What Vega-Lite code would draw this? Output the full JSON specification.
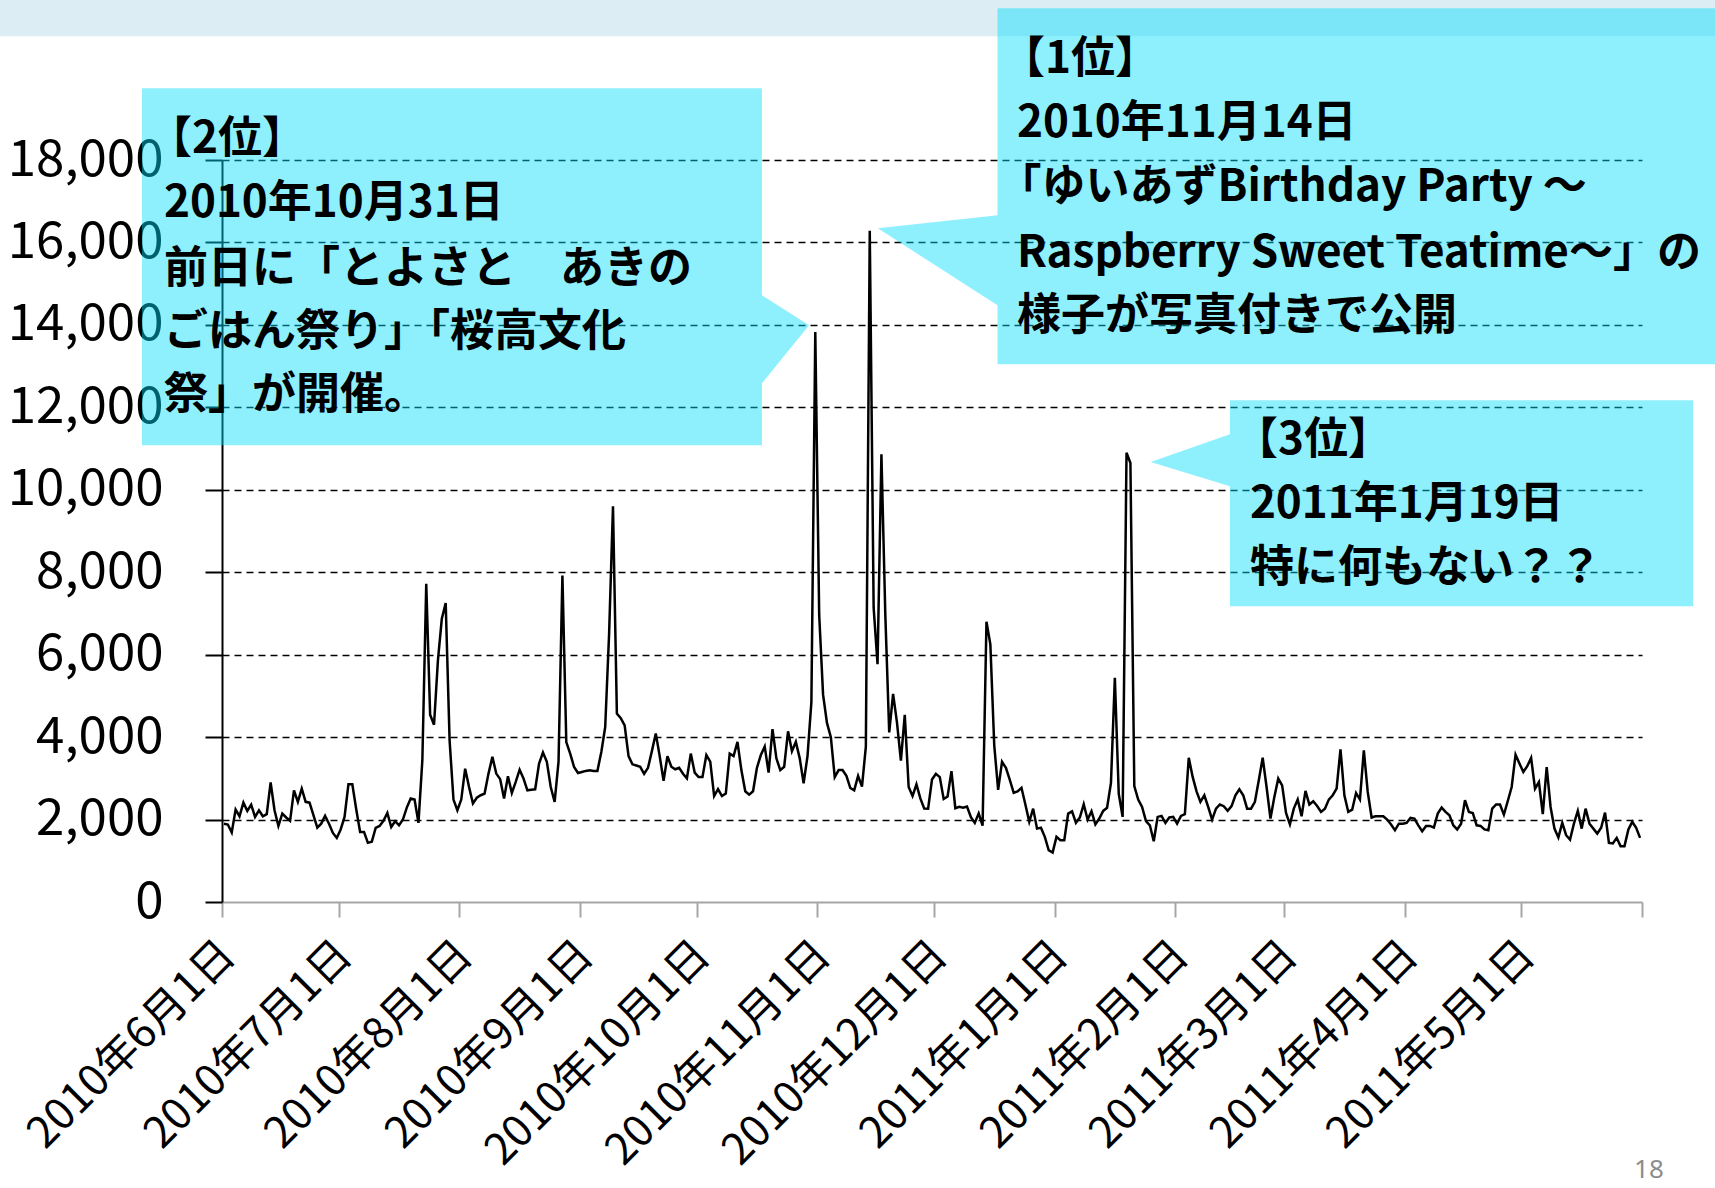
{
  "$schema": "https://vega.github.io/schema/vega-lite/v6.json",
  "width": 1420,
  "height": 742,
  "autosize": {"type": "none"},
  "padding": {"left": 222, "top": 160, "right": 73, "bottom": 286},
  "background": "white",
  "config": {"view": {"stroke": null}},
  "datasets": {
    "band": [{"t0": "2010-03-01T00:00:00Z", "t1": "2011-07-15T00:00:00Z", "y0": 21001, "y1": 23500}],
    "callouts": [
      {"id": "b2", "t": "2010-05-11T10:30:00Z", "top": 19740, "bot": 11079},
      {"id": "b2", "t": "2010-10-17T19:00:00Z", "top": 19740, "bot": 11079},
      {"id": "b2", "t": "2010-10-17T19:00:00Z", "top": 14718, "bot": 12583},
      {"id": "b2", "t": "2010-10-29T21:30:00Z", "top": 13990, "bot": 13990},
      {"id": "b1", "t": "2010-11-16T14:00:00Z", "top": 16343, "bot": 16343},
      {"id": "b1", "t": "2010-12-17T08:00:00Z", "top": 16659, "bot": 14475},
      {"id": "b1", "t": "2010-12-17T08:00:00Z", "top": 21680, "bot": 13044},
      {"id": "b1", "t": "2011-07-15T00:00:00Z", "top": 21680, "bot": 13044},
      {"id": "b3", "t": "2011-01-25T17:00:00Z", "top": 10674, "bot": 10674},
      {"id": "b3", "t": "2011-02-15T02:00:00Z", "top": 11346, "bot": 10085},
      {"id": "b3", "t": "2011-02-15T02:00:00Z", "top": 12171, "bot": 7173},
      {"id": "b3", "t": "2011-06-14T03:00:00Z", "top": 12171, "bot": 7173}
    ],
    "texts": [
      {"t": "2010-05-13T00:00:00Z", "y": 18478, "s": "【2位】"},
      {"t": "2010-05-17T02:00:00Z", "y": 16925, "s": "2010年10月31日"},
      {"t": "2010-05-17T02:00:00Z", "y": 15324, "s": "前日に「とよさと　あきの"},
      {"t": "2010-05-17T02:00:00Z", "y": 13796, "s": "ごはん祭り」「桜高文化"},
      {"t": "2010-05-17T02:00:00Z", "y": 12268, "s": "祭」が開催。"},
      {"t": "2010-12-18T06:00:00Z", "y": 20419, "s": "【1位】"},
      {"t": "2010-12-22T08:00:00Z", "y": 18876, "s": "2010年11月14日"},
      {"t": "2010-12-17T08:00:00Z", "y": 17313, "s": "「ゆいあずBirthday Party ～"},
      {"t": "2010-12-22T08:00:00Z", "y": 15718, "s": "Raspberry Sweet Teatime～」の"},
      {"t": "2010-12-22T08:00:00Z", "y": 14184, "s": "様子が写真付きで公開"},
      {"t": "2011-02-16T03:00:00Z", "y": 11176, "s": "【3位】"},
      {"t": "2011-02-20T05:00:00Z", "y": 9624, "s": "2011年1月19日"},
      {"t": "2011-02-20T05:00:00Z", "y": 8071, "s": "特に何もない？？"}
    ],
    "page": [{"t": "2011-06-02T19:00:00Z", "y": -6509, "s": "18"}],
    "series": [
      {"d":"2010-06-01","v":1900},{"d":"2010-06-02","v":1880},{"d":"2010-06-03","v":1685},{"d":"2010-06-04","v":2240},{"d":"2010-06-05","v":2080},{"d":"2010-06-06","v":2410},{"d":"2010-06-07","v":2210},{"d":"2010-06-08","v":2360},{"d":"2010-06-09","v":2065},{"d":"2010-06-10","v":2225},
      {"d":"2010-06-11","v":2080},{"d":"2010-06-12","v":2130},{"d":"2010-06-13","v":2900},{"d":"2010-06-14","v":2225},{"d":"2010-06-15","v":1845},{"d":"2010-06-16","v":2145},{"d":"2010-06-17","v":2050},{"d":"2010-06-18","v":1970},{"d":"2010-06-19","v":2710},{"d":"2010-06-20","v":2430},
      {"d":"2010-06-21","v":2750},{"d":"2010-06-22","v":2430},{"d":"2010-06-23","v":2410},{"d":"2010-06-24","v":2105},{"d":"2010-06-25","v":1805},{"d":"2010-06-26","v":1900},{"d":"2010-06-27","v":2090},{"d":"2010-06-28","v":1900},{"d":"2010-06-29","v":1675},{"d":"2010-06-30","v":1555},
      {"d":"2010-07-01","v":1760},{"d":"2010-07-02","v":2065},{"d":"2010-07-03","v":2855},{"d":"2010-07-04","v":2855},{"d":"2010-07-05","v":2250},{"d":"2010-07-06","v":1700},{"d":"2010-07-07","v":1700},{"d":"2010-07-08","v":1435},{"d":"2010-07-09","v":1460},{"d":"2010-07-10","v":1800},
      {"d":"2010-07-11","v":1845},{"d":"2010-07-12","v":1970},{"d":"2010-07-13","v":2160},{"d":"2010-07-14","v":1820},{"d":"2010-07-15","v":1960},{"d":"2010-07-16","v":1860},{"d":"2010-07-17","v":2000},{"d":"2010-07-18","v":2290},{"d":"2010-07-19","v":2510},{"d":"2010-07-20","v":2485},
      {"d":"2010-07-21","v":1920},{"d":"2010-07-22","v":3440},{"d":"2010-07-23","v":7720},{"d":"2010-07-24","v":4545},{"d":"2010-07-25","v":4300},{"d":"2010-07-26","v":5860},{"d":"2010-07-27","v":6870},{"d":"2010-07-28","v":7250},{"d":"2010-07-29","v":3920},{"d":"2010-07-30","v":2485},
      {"d":"2010-07-31","v":2225},
      {"d":"2010-08-01","v":2485},{"d":"2010-08-02","v":3235},{"d":"2010-08-03","v":2790},{"d":"2010-08-04","v":2390},{"d":"2010-08-05","v":2530},{"d":"2010-08-06","v":2590},{"d":"2010-08-07","v":2630},{"d":"2010-08-08","v":3115},{"d":"2010-08-09","v":3520},{"d":"2010-08-10","v":3115},
      {"d":"2010-08-11","v":2980},{"d":"2010-08-12","v":2510},{"d":"2010-08-13","v":3050},{"d":"2010-08-14","v":2645},{"d":"2010-08-15","v":2915},{"d":"2010-08-16","v":3210},{"d":"2010-08-17","v":2995},{"d":"2010-08-18","v":2710},{"d":"2010-08-19","v":2725},{"d":"2010-08-20","v":2735},
      {"d":"2010-08-21","v":3360},{"d":"2010-08-22","v":3625},{"d":"2010-08-23","v":3400},{"d":"2010-08-24","v":2790},{"d":"2010-08-25","v":2430},{"d":"2010-08-26","v":3400},{"d":"2010-08-27","v":7920},{"d":"2010-08-28","v":3880},{"d":"2010-08-29","v":3600},{"d":"2010-08-30","v":3275},
      {"d":"2010-08-31","v":3130},
      {"d":"2010-09-01","v":3155},{"d":"2010-09-02","v":3180},{"d":"2010-09-03","v":3195},{"d":"2010-09-04","v":3180},{"d":"2010-09-05","v":3180},{"d":"2010-09-06","v":3640},{"d":"2010-09-07","v":4245},{"d":"2010-09-08","v":6500},{"d":"2010-09-09","v":9600},{"d":"2010-09-10","v":4570},
      {"d":"2010-09-11","v":4460},{"d":"2010-09-12","v":4285},{"d":"2010-09-13","v":3540},{"d":"2010-09-14","v":3340},{"d":"2010-09-15","v":3310},{"d":"2010-09-16","v":3280},{"d":"2010-09-17","v":3110},{"d":"2010-09-18","v":3255},{"d":"2010-09-19","v":3660},{"d":"2010-09-20","v":4090},
      {"d":"2010-09-21","v":3540},{"d":"2010-09-22","v":2940},{"d":"2010-09-23","v":3540},{"d":"2010-09-24","v":3280},{"d":"2010-09-25","v":3220},{"d":"2010-09-26","v":3255},{"d":"2010-09-27","v":3110},{"d":"2010-09-28","v":3000},{"d":"2010-09-29","v":3600},{"d":"2010-09-30","v":3140},
      {"d":"2010-10-01","v":3030},{"d":"2010-10-02","v":3030},{"d":"2010-10-03","v":3565},{"d":"2010-10-04","v":3405},{"d":"2010-10-05","v":2570},{"d":"2010-10-06","v":2740},{"d":"2010-10-07","v":2570},{"d":"2010-10-08","v":2630},{"d":"2010-10-09","v":3600},{"d":"2010-10-10","v":3540},
      {"d":"2010-10-11","v":3885},{"d":"2010-10-12","v":3200},{"d":"2010-10-13","v":2685},{"d":"2010-10-14","v":2605},{"d":"2010-10-15","v":2685},{"d":"2010-10-16","v":3255},{"d":"2010-10-17","v":3565},{"d":"2010-10-18","v":3770},{"d":"2010-10-19","v":3140},{"d":"2010-10-20","v":4195},
      {"d":"2010-10-21","v":3485},{"d":"2010-10-22","v":3200},{"d":"2010-10-23","v":3280},{"d":"2010-10-24","v":4140},{"d":"2010-10-25","v":3660},{"d":"2010-10-26","v":3885},{"d":"2010-10-27","v":3485},{"d":"2010-10-28","v":2880},{"d":"2010-10-29","v":3540},{"d":"2010-10-30","v":4855},
      {"d":"2010-10-31","v":13830},
      {"d":"2010-11-01","v":6970},{"d":"2010-11-02","v":5030},{"d":"2010-11-03","v":4345},{"d":"2010-11-04","v":4000},{"d":"2010-11-05","v":3030},{"d":"2010-11-06","v":3200},{"d":"2010-11-07","v":3200},{"d":"2010-11-08","v":3060},{"d":"2010-11-09","v":2765},{"d":"2010-11-10","v":2710},
      {"d":"2010-11-11","v":3060},{"d":"2010-11-12","v":2800},{"d":"2010-11-13","v":3770},{"d":"2010-11-14","v":16285},{"d":"2010-11-15","v":7140},{"d":"2010-11-16","v":5770},{"d":"2010-11-17","v":10860},{"d":"2010-11-18","v":6970},{"d":"2010-11-19","v":4115},{"d":"2010-11-20","v":5050},
      {"d":"2010-11-21","v":4350},{"d":"2010-11-22","v":3430},{"d":"2010-11-23","v":4540},{"d":"2010-11-24","v":2790},{"d":"2010-11-25","v":2570},{"d":"2010-11-26","v":2855},{"d":"2010-11-27","v":2515},{"d":"2010-11-28","v":2270},{"d":"2010-11-29","v":2265},{"d":"2010-11-30","v":2970},
      {"d":"2010-12-01","v":3110},{"d":"2010-12-02","v":3030},{"d":"2010-12-03","v":2500},{"d":"2010-12-04","v":2560},{"d":"2010-12-05","v":3175},{"d":"2010-12-06","v":2275},{"d":"2010-12-07","v":2310},{"d":"2010-12-08","v":2285},{"d":"2010-12-09","v":2315},{"d":"2010-12-10","v":2060},
      {"d":"2010-12-11","v":1920},{"d":"2010-12-12","v":2150},{"d":"2010-12-13","v":1850},{"d":"2010-12-14","v":6800},{"d":"2010-12-15","v":6250},{"d":"2010-12-16","v":3800},{"d":"2010-12-17","v":2720},{"d":"2010-12-18","v":3400},{"d":"2010-12-19","v":3255},{"d":"2010-12-20","v":2960},
      {"d":"2010-12-21","v":2650},{"d":"2010-12-22","v":2685},{"d":"2010-12-23","v":2770},{"d":"2010-12-24","v":2365},{"d":"2010-12-25","v":1945},{"d":"2010-12-26","v":2265},{"d":"2010-12-27","v":1780},{"d":"2010-12-28","v":1800},{"d":"2010-12-29","v":1580},{"d":"2010-12-30","v":1255},
      {"d":"2010-12-31","v":1200},
      {"d":"2011-01-01","v":1580},{"d":"2011-01-02","v":1500},{"d":"2011-01-03","v":1500},{"d":"2011-01-04","v":2145},{"d":"2011-01-05","v":2200},{"d":"2011-01-06","v":1920},{"d":"2011-01-07","v":2050},{"d":"2011-01-08","v":2370},{"d":"2011-01-09","v":2000},{"d":"2011-01-10","v":2200},
      {"d":"2011-01-11","v":1885},{"d":"2011-01-12","v":2025},{"d":"2011-01-13","v":2210},{"d":"2011-01-14","v":2285},{"d":"2011-01-15","v":2890},{"d":"2011-01-16","v":5440},{"d":"2011-01-17","v":2630},{"d":"2011-01-18","v":2065},{"d":"2011-01-19","v":10900},{"d":"2011-01-20","v":10650},
      {"d":"2011-01-21","v":2810},{"d":"2011-01-22","v":2485},{"d":"2011-01-23","v":2305},{"d":"2011-01-24","v":1960},{"d":"2011-01-25","v":1860},{"d":"2011-01-26","v":1475},{"d":"2011-01-27","v":2065},{"d":"2011-01-28","v":2090},{"d":"2011-01-29","v":1920},{"d":"2011-01-30","v":2050},
      {"d":"2011-01-31","v":2065},
      {"d":"2011-02-01","v":1900},{"d":"2011-02-02","v":2090},{"d":"2011-02-03","v":2130},{"d":"2011-02-04","v":3500},{"d":"2011-02-05","v":3035},{"d":"2011-02-06","v":2685},{"d":"2011-02-07","v":2430},{"d":"2011-02-08","v":2590},{"d":"2011-02-09","v":2305},{"d":"2011-02-10","v":2000},
      {"d":"2011-02-11","v":2265},{"d":"2011-02-12","v":2365},{"d":"2011-02-13","v":2325},{"d":"2011-02-14","v":2210},{"d":"2011-02-15","v":2325},{"d":"2011-02-16","v":2590},{"d":"2011-02-17","v":2735},{"d":"2011-02-18","v":2590},{"d":"2011-02-19","v":2265},{"d":"2011-02-20","v":2265},
      {"d":"2011-02-21","v":2430},{"d":"2011-02-22","v":2955},{"d":"2011-02-23","v":3500},{"d":"2011-02-24","v":2790},{"d":"2011-02-25","v":2025},{"d":"2011-02-26","v":2550},{"d":"2011-02-27","v":2995},{"d":"2011-02-28","v":2830},
      {"d":"2011-03-01","v":2160},{"d":"2011-03-02","v":1885},{"d":"2011-03-03","v":2265},{"d":"2011-03-04","v":2485},{"d":"2011-03-05","v":2080},{"d":"2011-03-06","v":2695},{"d":"2011-03-07","v":2365},{"d":"2011-03-08","v":2445},{"d":"2011-03-09","v":2330},{"d":"2011-03-10","v":2185},
      {"d":"2011-03-11","v":2265},{"d":"2011-03-12","v":2485},{"d":"2011-03-13","v":2590},{"d":"2011-03-14","v":2750},{"d":"2011-03-15","v":3705},{"d":"2011-03-16","v":2590},{"d":"2011-03-17","v":2185},{"d":"2011-03-18","v":2240},{"d":"2011-03-19","v":2645},{"d":"2011-03-20","v":2485},
      {"d":"2011-03-21","v":3680},{"d":"2011-03-22","v":2670},{"d":"2011-03-23","v":2050},{"d":"2011-03-24","v":2080},{"d":"2011-03-25","v":2080},{"d":"2011-03-26","v":2080},{"d":"2011-03-27","v":2000},{"d":"2011-03-28","v":1880},{"d":"2011-03-29","v":1740},{"d":"2011-03-30","v":1900},
      {"d":"2011-03-31","v":1900},
      {"d":"2011-04-01","v":1920},{"d":"2011-04-02","v":2040},{"d":"2011-04-03","v":2025},{"d":"2011-04-04","v":1860},{"d":"2011-04-05","v":1715},{"d":"2011-04-06","v":1845},{"d":"2011-04-07","v":1845},{"d":"2011-04-08","v":1805},{"d":"2011-04-09","v":2145},{"d":"2011-04-10","v":2290},
      {"d":"2011-04-11","v":2185},{"d":"2011-04-12","v":2105},{"d":"2011-04-13","v":1860},{"d":"2011-04-14","v":1760},{"d":"2011-04-15","v":1900},{"d":"2011-04-16","v":2470},{"d":"2011-04-17","v":2185},{"d":"2011-04-18","v":2160},{"d":"2011-04-19","v":1860},{"d":"2011-04-20","v":1845},
      {"d":"2011-04-21","v":1760},{"d":"2011-04-22","v":1740},{"d":"2011-04-23","v":2265},{"d":"2011-04-24","v":2365},{"d":"2011-04-25","v":2365},{"d":"2011-04-26","v":2120},{"d":"2011-04-27","v":2450},{"d":"2011-04-28","v":2790},{"d":"2011-04-29","v":3575},{"d":"2011-04-30","v":3360},
      {"d":"2011-05-01","v":3155},{"d":"2011-05-02","v":3295},{"d":"2011-05-03","v":3495},{"d":"2011-05-04","v":2750},{"d":"2011-05-05","v":2910},{"d":"2011-05-06","v":2130},{"d":"2011-05-07","v":3275},{"d":"2011-05-08","v":2305},{"d":"2011-05-09","v":1780},{"d":"2011-05-10","v":1565},
      {"d":"2011-05-11","v":1920},{"d":"2011-05-12","v":1620},{"d":"2011-05-13","v":1515},{"d":"2011-05-14","v":1900},{"d":"2011-05-15","v":2210},{"d":"2011-05-16","v":1780},{"d":"2011-05-17","v":2265},{"d":"2011-05-18","v":1900},{"d":"2011-05-19","v":1780},{"d":"2011-05-20","v":1660},
      {"d":"2011-05-21","v":1800},{"d":"2011-05-22","v":2170},{"d":"2011-05-23","v":1435},{"d":"2011-05-24","v":1420},{"d":"2011-05-25","v":1555},{"d":"2011-05-26","v":1355},{"d":"2011-05-27","v":1355},{"d":"2011-05-28","v":1760},{"d":"2011-05-29","v":1945},{"d":"2011-05-30","v":1800},
      {"d":"2011-05-31","v":1555}
    ]
  },
  "layer": [
    {
      "data": {"name": "band"},
      "mark": {"type": "rect", "color": "#DCEEF4", "clip": false},
      "encoding": {
        "x": {"field": "t0", "type": "temporal", "scale": {"type": "utc"}, "title": null},
        "x2": {"field": "t1"},
        "y": {"field": "y0", "type": "quantitative", "title": null},
        "y2": {"field": "y1"}
      }
    },
    {
      "data": {"name": "series"},
      "mark": {"type": "line", "color": "black", "strokeWidth": 2.5, "clip": false},
      "encoding": {
        "x": {
          "field": "d", "type": "temporal", "timeUnit": "utcyearmonthdate", "bandPosition": 0.5, "title": null,
          "scale": {"type": "utc", "nice": false, "domain": [{"year": 2010, "month": 6, "date": 1, "utc": true}, {"year": 2011, "month": 6, "date": 1, "utc": true}]},
          "axis": {
            "title": null,
            "values": [
              {"year": 2010, "month": 6, "date": 1, "utc": true},
              {"year": 2010, "month": 7, "date": 1, "utc": true},
              {"year": 2010, "month": 8, "date": 1, "utc": true},
              {"year": 2010, "month": 9, "date": 1, "utc": true},
              {"year": 2010, "month": 10, "date": 1, "utc": true},
              {"year": 2010, "month": 11, "date": 1, "utc": true},
              {"year": 2010, "month": 12, "date": 1, "utc": true},
              {"year": 2011, "month": 1, "date": 1, "utc": true},
              {"year": 2011, "month": 2, "date": 1, "utc": true},
              {"year": 2011, "month": 3, "date": 1, "utc": true},
              {"year": 2011, "month": 4, "date": 1, "utc": true},
              {"year": 2011, "month": 5, "date": 1, "utc": true},
              {"year": 2011, "month": 6, "date": 1, "utc": true}
            ],
            "labelExpr": "datum.value > 1306000000000 ? '' : utcFormat(datum.value, '%Y年%-m月%-d日')",
            "labelAngle": -45,
            "labelAlign": "right",
            "labelBaseline": "middle",
            "labelFont": "Noto Sans CJK JP",
            "labelFontSize": 43,
            "labelColor": "black",
            "labelPadding": 31,
            "labelOffset": 6,
            "labelLimit": 600,
            "labelOverlap": false,
            "labelBound": false,
            "labelFlush": false,
            "tickColor": "#A6A6A6",
            "tickSize": 15,
            "tickWidth": 2,
            "domainColor": "#A6A6A6",
            "domainWidth": 2,
            "grid": false
          }
        },
        "y": {
          "field": "v", "type": "quantitative", "title": null,
          "scale": {"domain": [0, 18000], "nice": false, "zero": false},
          "axis": {
            "title": null,
            "values": [0, 2000, 4000, 6000, 8000, 10000, 12000, 14000, 16000, 18000],
            "labelExpr": "format(datum.value, ',d')",
            "labelFont": "Noto Sans CJK JP",
            "labelFontSize": 51,
            "labelColor": "black",
            "labelPadding": 42,
            "labelLimit": 400,
            "labelOverlap": false,
            "labelBound": false,
            "labelFlush": false,
            "tickColor": "black",
            "tickSize": 17,
            "tickWidth": 2,
            "domainColor": "black",
            "domainWidth": 2,
            "grid": true,
            "gridColor": "black",
            "gridDash": [7, 5],
            "gridWidth": 1.5,
            "gridOpacity": {"condition": {"test": "datum.value === 0", "value": 0}, "value": 1}
          }
        }
      }
    },
    {
      "data": {"name": "callouts"},
      "mark": {"type": "area", "color": "#00DCFA", "opacity": 0.44, "clip": false, "interpolate": "linear"},
      "encoding": {
        "x": {"field": "t", "type": "temporal", "scale": {"type": "utc"}, "title": null},
        "y": {"field": "top", "type": "quantitative", "title": null},
        "y2": {"field": "bot"},
        "detail": {"field": "id"}
      }
    },
    {
      "data": {"name": "texts"},
      "mark": {"type": "text", "align": "left", "baseline": "middle", "font": "Noto Sans CJK JP", "fontSize": 44, "fontWeight": "bold", "color": "black", "clip": false},
      "encoding": {
        "x": {"field": "t", "type": "temporal", "scale": {"type": "utc"}, "title": null},
        "y": {"field": "y", "type": "quantitative", "title": null},
        "text": {"field": "s"}
      }
    },
    {
      "data": {"name": "page"},
      "mark": {"type": "text", "align": "center", "baseline": "middle", "font": "Noto Sans", "fontSize": 26, "color": "#8C8C8C", "clip": false},
      "encoding": {
        "x": {"field": "t", "type": "temporal", "scale": {"type": "utc"}, "title": null},
        "y": {"field": "y", "type": "quantitative", "title": null},
        "text": {"field": "s"}
      }
    }
  ]
}
